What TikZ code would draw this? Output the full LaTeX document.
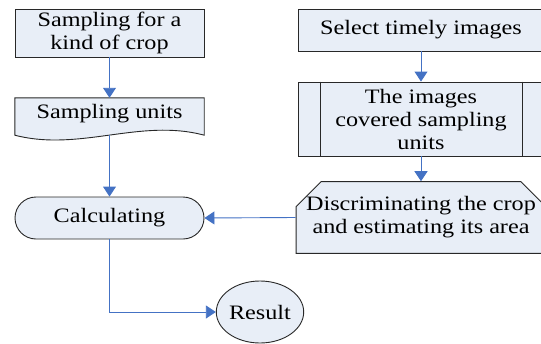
\documentclass[tikz,border=0pt]{standalone}
\usepackage{fontspec}
\setmainfont{Liberation Serif}[FakeStretch=1.18]
\usetikzlibrary{arrows.meta,shapes.geometric,shapes.misc}
\definecolor{boxfill}{RGB}{232,238,247}
\definecolor{arrowblue}{RGB}{68,114,196}
\definecolor{edgegray}{RGB}{40,40,40}
\begin{document}
\begin{tikzpicture}[x=1pt,y=-1pt,
  txt/.style={font=\fontsize{20.5}{23}\selectfont, align=center, inner sep=0pt, text=black},
  boxstyle/.style={txt, draw=edgegray, fill=boxfill, line width=0.9pt},
  conn/.style={draw=arrowblue, line width=0.9pt, -{Triangle[width=13pt,length=10pt]}},
]
\useasboundingbox (0,0) rectangle (541,343);

% left column
\node[boxstyle, rectangle, minimum width=189pt, minimum height=48pt] (b1) at (109.5,33) {Sampling for a\\kind of crop};
\node[txt, minimum width=189pt, minimum height=37pt] (b2) at (109.5,116.5) {};
\draw[edgegray, fill=boxfill, line width=0.9pt]
  (b2.south west) -- (b2.north west) -- (b2.north east) -- (b2.south east)
  .. controls (140,118) and (80,152) .. (b2.south west) -- cycle;
\node[txt] at (109.5,114) {Sampling units};
\node[boxstyle, rectangle, rounded corners=21pt, minimum width=189pt, minimum height=42pt] (calc) at (109.5,218) {Calculating};
\node[boxstyle, ellipse, minimum width=84pt, minimum height=62pt] (res) at (260,312) {Result};

% right column
\node[boxstyle, rectangle, minimum width=246pt, minimum height=42pt] (b3) at (421,30) {Select timely images};
\node[boxstyle, rectangle, minimum width=246pt, minimum height=74pt] (b4) at (421,119) {The images\\covered sampling\\units};
\draw[edgegray, line width=0.9pt] ([xshift=23pt]b4.north west) -- ([xshift=23pt]b4.south west);
\draw[edgegray, line width=0.9pt] ([xshift=-22pt]b4.north east) -- ([xshift=-22pt]b4.south east);
\node[boxstyle, chamfered rectangle, chamfered rectangle corners={north west,north east},
  chamfered rectangle xsep=10pt, chamfered rectangle ysep=15pt,
  minimum width=246pt, minimum height=61pt] (b5) at (421,217.5) {Discriminating the crop\\and estimating its area};

% connectors
\draw[conn] (b1.south) -- (b2.north);
\draw[conn] (b2.south) -- (calc.north);
\draw[conn] (b3.south) -- (b4.north);
\draw[conn] (b4.south) -- (b5.north);
\draw[conn] (b5.west) -- (calc.east);
\draw[conn] (calc.south) |- (res.west);
\end{tikzpicture}
\end{document}
